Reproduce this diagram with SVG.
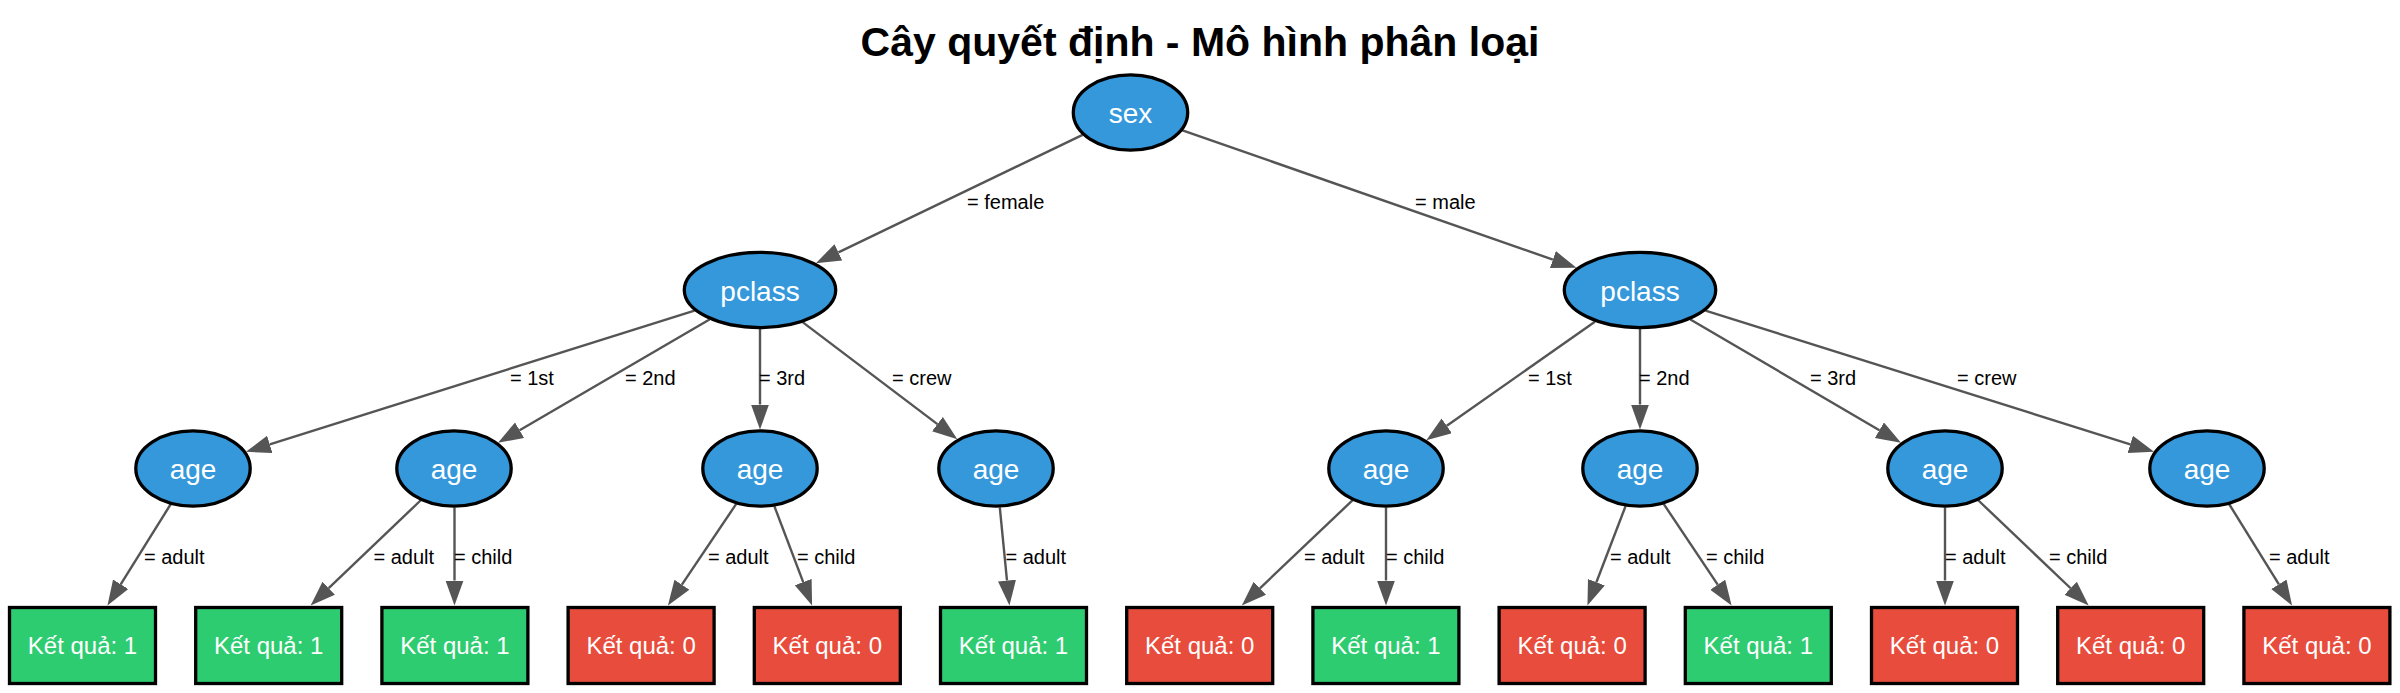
<svg xmlns="http://www.w3.org/2000/svg" width="2400" height="693" viewBox="0 0 2400 693">
<style>
.bg{fill:#ffffff}
.title{font-family:"Liberation Sans",Arial,sans-serif;font-size:41px;font-weight:bold;fill:#000;text-anchor:middle}
.dec ellipse{fill:#3498db;stroke:#000;stroke-width:3.3}
.dec text{font-family:"Liberation Sans",Arial,sans-serif;font-size:28px;fill:#fff;text-anchor:middle}
.leaf rect{stroke:#000;stroke-width:3.3}
.leaf text{font-family:"Liberation Sans",Arial,sans-serif;font-size:24px;fill:#fff;text-anchor:middle}
.g1 rect{fill:#2ecc71}
.g0 rect{fill:#e74c3c}
.edge{stroke:#555555;stroke-width:2.4;fill:none;marker-end:url(#arr)}
.elab{font-family:"Liberation Sans",Arial,sans-serif;font-size:20px;fill:#000}
</style>
<defs>
<marker id="arr" markerUnits="userSpaceOnUse" markerWidth="27" markerHeight="20" refX="0" refY="9" orient="auto">
<path d="M0,0 L25,9 L0,18 Z" fill="#555555"/>
</marker>
</defs>
<rect class="bg" x="0" y="0" width="2400" height="693"/>
<text class="title" x="1200" y="56">Cây quyết định - Mô hình phân loại</text>

<g id="connectors">
<line class="edge" x1="1082.6" y1="134.8" x2="838.4" y2="252.3"/>
<line class="edge" x1="1181.8" y1="130.1" x2="1552.9" y2="259.6"/>
<line class="edge" x1="694.5" y1="310.6" x2="269.75" y2="444.35"/>
<line class="edge" x1="709.5" y1="319.5" x2="519.6" y2="430.2"/>
<line class="edge" x1="760" y1="329" x2="760" y2="404.5"/>
<line class="edge" x1="802.9" y1="322.4" x2="937.4" y2="424.1"/>
<line class="edge" x1="1594.9" y1="321.7" x2="1446.8" y2="425.8"/>
<line class="edge" x1="1640" y1="329" x2="1640" y2="404.5"/>
<line class="edge" x1="1690.4" y1="319.5" x2="1879.4" y2="430.2"/>
<line class="edge" x1="1705.5" y1="310.6" x2="2130.25" y2="444.35"/>
<line class="edge" x1="170.5" y1="504.5" x2="120.7" y2="584.3"/>
<line class="edge" x1="420.5" y1="500.5" x2="328.7" y2="588.2"/>
<line class="edge" x1="454.5" y1="507.5" x2="454.5" y2="580.5"/>
<line class="edge" x1="736.1" y1="504.1" x2="681.9" y2="584.7"/>
<line class="edge" x1="774.4" y1="506.3" x2="803.2" y2="582.1"/>
<line class="edge" x1="999.8" y1="507.4" x2="1007.0" y2="580.6"/>
<line class="edge" x1="1352.4" y1="500.4" x2="1259.9" y2="588.3"/>
<line class="edge" x1="1386" y1="507.5" x2="1386" y2="580.5"/>
<line class="edge" x1="1625.5" y1="506.3" x2="1596.4" y2="582.2"/>
<line class="edge" x1="1663.8" y1="504.1" x2="1717.7" y2="584.7"/>
<line class="edge" x1="1945" y1="507.5" x2="1945" y2="580.5"/>
<line class="edge" x1="1978.5" y1="500.5" x2="2070.6" y2="588.25"/>
<line class="edge" x1="2229.4" y1="504.5" x2="2278.9" y2="584.3"/>

<text class="elab" x="967" y="209">= female</text>
<text class="elab" x="1415" y="209">= male</text>
<text class="elab" x="510" y="385">= 1st</text>
<text class="elab" x="625" y="385">= 2nd</text>
<text class="elab" x="759" y="385">= 3rd</text>
<text class="elab" x="892" y="385">= crew</text>
<text class="elab" x="1528" y="385">= 1st</text>
<text class="elab" x="1639" y="385">= 2nd</text>
<text class="elab" x="1810" y="385">= 3rd</text>
<text class="elab" x="1957" y="385">= crew</text>
<text class="elab" x="144" y="564">= adult</text>
<text class="elab" x="373.5" y="564">= adult</text>
<text class="elab" x="454" y="564">= child</text>
<text class="elab" x="708" y="564">= adult</text>
<text class="elab" x="797" y="564">= child</text>
<text class="elab" x="1005.5" y="564">= adult</text>
<text class="elab" x="1304" y="564">= adult</text>
<text class="elab" x="1386" y="564">= child</text>
<text class="elab" x="1610" y="564">= adult</text>
<text class="elab" x="1706" y="564">= child</text>
<text class="elab" x="1945" y="564">= adult</text>
<text class="elab" x="2049" y="564">= child</text>
<text class="elab" x="2269" y="564">= adult</text>
</g>

<g id="n_sex" class="dec"><ellipse cx="1130.5" cy="112.5" rx="57.2" ry="37.6"/><text x="1130.5" y="123">sex</text></g>
<g id="n_pclass_f" class="dec"><ellipse cx="760" cy="290" rx="75.7" ry="37.6"/><text x="760" y="300.5">pclass</text></g>
<g id="n_pclass_m" class="dec"><ellipse cx="1640" cy="290" rx="75.7" ry="37.6"/><text x="1640" y="300.5">pclass</text></g>

<g id="n_age_f1" class="dec"><ellipse cx="193" cy="468.5" rx="57.2" ry="37.6"/><text x="193" y="478.5">age</text></g>
<g id="n_age_f2" class="dec"><ellipse cx="454" cy="468.5" rx="57.2" ry="37.6"/><text x="454" y="478.5">age</text></g>
<g id="n_age_f3" class="dec"><ellipse cx="760" cy="468.5" rx="57.2" ry="37.6"/><text x="760" y="478.5">age</text></g>
<g id="n_age_f4" class="dec"><ellipse cx="996" cy="468.5" rx="57.2" ry="37.6"/><text x="996" y="478.5">age</text></g>
<g id="n_age_m1" class="dec"><ellipse cx="1386" cy="468.5" rx="57.2" ry="37.6"/><text x="1386" y="478.5">age</text></g>
<g id="n_age_m2" class="dec"><ellipse cx="1640" cy="468.5" rx="57.2" ry="37.6"/><text x="1640" y="478.5">age</text></g>
<g id="n_age_m3" class="dec"><ellipse cx="1945" cy="468.5" rx="57.2" ry="37.6"/><text x="1945" y="478.5">age</text></g>
<g id="n_age_m4" class="dec"><ellipse cx="2207" cy="468.5" rx="57.2" ry="37.6"/><text x="2207" y="478.5">age</text></g>

<g id="leaf1" class="leaf g1"><rect x="9.5" y="607.5" width="146" height="76"/><text x="82.5" y="654">Kết quả: 1</text></g>
<g id="leaf2" class="leaf g1"><rect x="195.7" y="607.5" width="146" height="76"/><text x="268.7" y="654">Kết quả: 1</text></g>
<g id="leaf3" class="leaf g1"><rect x="381.9" y="607.5" width="146" height="76"/><text x="454.9" y="654">Kết quả: 1</text></g>
<g id="leaf4" class="leaf g0"><rect x="568.1" y="607.5" width="146" height="76"/><text x="641.1" y="654">Kết quả: 0</text></g>
<g id="leaf5" class="leaf g0"><rect x="754.3" y="607.5" width="146" height="76"/><text x="827.3" y="654">Kết quả: 0</text></g>
<g id="leaf6" class="leaf g1"><rect x="940.5" y="607.5" width="146" height="76"/><text x="1013.5" y="654">Kết quả: 1</text></g>
<g id="leaf7" class="leaf g0"><rect x="1126.7" y="607.5" width="146" height="76"/><text x="1199.7" y="654">Kết quả: 0</text></g>
<g id="leaf8" class="leaf g1"><rect x="1312.9" y="607.5" width="146" height="76"/><text x="1385.9" y="654">Kết quả: 1</text></g>
<g id="leaf9" class="leaf g0"><rect x="1499.1" y="607.5" width="146" height="76"/><text x="1572.1" y="654">Kết quả: 0</text></g>
<g id="leaf10" class="leaf g1"><rect x="1685.3" y="607.5" width="146" height="76"/><text x="1758.3" y="654">Kết quả: 1</text></g>
<g id="leaf11" class="leaf g0"><rect x="1871.5" y="607.5" width="146" height="76"/><text x="1944.5" y="654">Kết quả: 0</text></g>
<g id="leaf12" class="leaf g0"><rect x="2057.7" y="607.5" width="146" height="76"/><text x="2130.7" y="654">Kết quả: 0</text></g>
<g id="leaf13" class="leaf g0"><rect x="2243.9" y="607.5" width="146" height="76"/><text x="2316.9" y="654">Kết quả: 0</text></g>
</svg>
